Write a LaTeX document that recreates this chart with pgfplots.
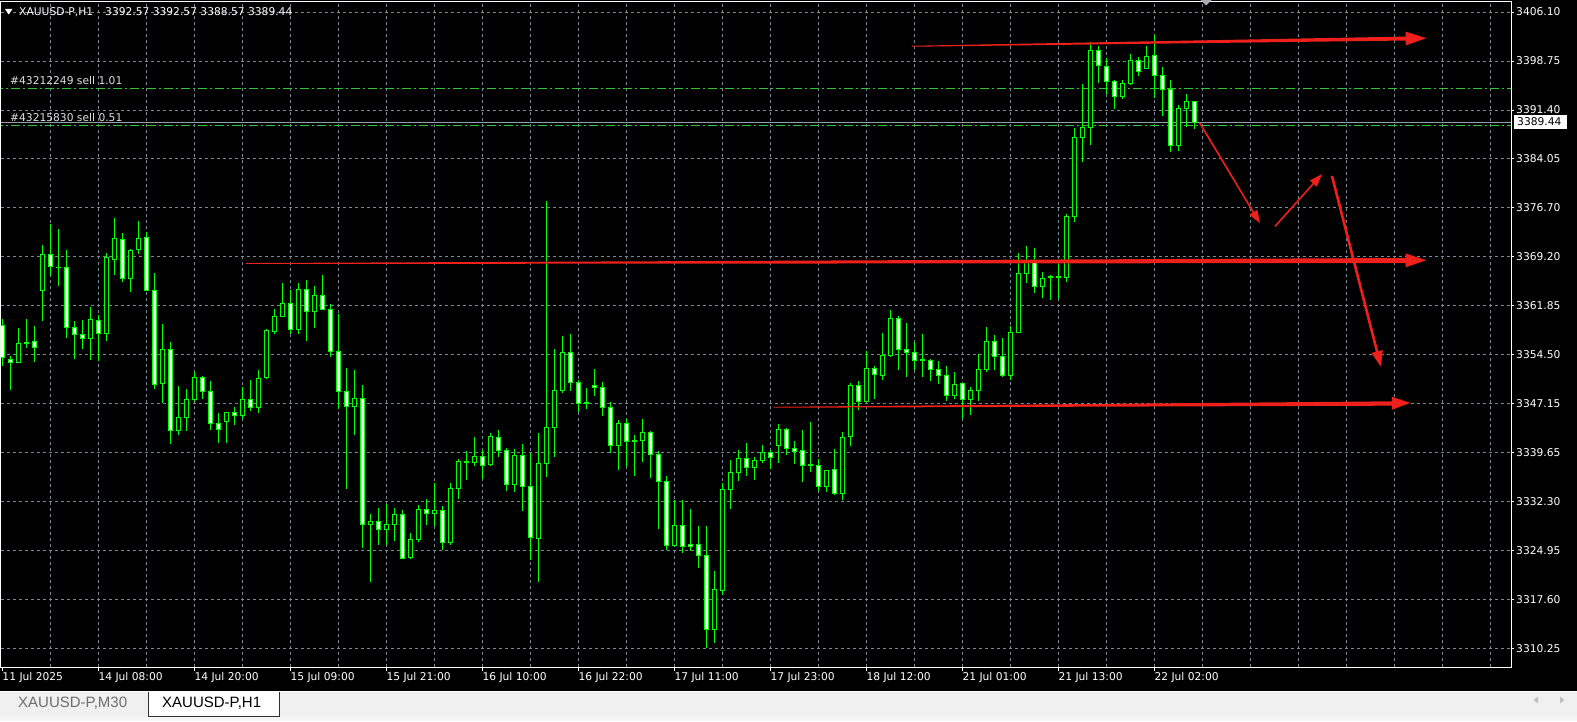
\documentclass[border=0pt]{standalone}
\usepackage{fontspec}
\setmainfont{DejaVu Sans}
\newfontfamily\tabfont{Liberation Sans}
\usepackage{pgfplots}
\usepackage{pgfplotstable}
\pgfplotsset{compat=1.18}
\usetikzlibrary{arrows.meta}

\definecolor{candle}{RGB}{0,255,0}
\definecolor{ordgreen}{RGB}{45,200,45}
\definecolor{gridc}{RGB}{119,136,153}
\definecolor{bidline}{RGB}{150,158,170}
\definecolor{redpen}{RGB}{238,32,28}
\definecolor{tabbg}{RGB}{240,240,240}
\definecolor{tabgray}{RGB}{110,110,110}

\newcommand\mt{\fontsize{10.7pt}{12pt}\selectfont}

% XAUUSD-P H1 bars: index, open, high, low, close
\pgfplotstableread{
k o h l c
0 3358.98 3359.88 3352.85 3354.06
1 3353.81 3354.31 3349.19 3353.30
2 3353.30 3358.53 3353.30 3356.22
3 3356.20 3359.88 3355.56 3356.40
4 3356.52 3358.83 3353.41 3355.62
5 3364.14 3371.03 3359.63 3369.63
6 3369.63 3374.19 3366.36 3367.76
7 3367.70 3373.43 3364.85 3367.60
8 3367.67 3370.27 3357.07 3358.57
9 3358.63 3359.58 3353.90 3357.52
10 3357.58 3359.73 3355.37 3356.92
11 3356.92 3361.69 3353.75 3359.84
12 3359.69 3360.48 3353.51 3357.67
13 3357.67 3369.78 3356.61 3369.07
14 3368.81 3375.09 3366.51 3372.03
15 3371.88 3372.83 3365.50 3365.95
16 3365.95 3370.38 3363.95 3370.27
17 3370.38 3374.64 3369.67 3372.03
18 3372.23 3372.98 3364.10 3364.14
19 3364.20 3366.81 3349.34 3350.05
20 3350.14 3359.13 3347.23 3355.32
21 3355.32 3356.42 3341.10 3343.12
22 3343.12 3349.79 3342.42 3345.08
23 3345.08 3349.34 3343.06 3347.79
24 3347.79 3351.90 3347.43 3351.10
25 3351.10 3351.30 3347.84 3348.99
26 3348.99 3350.55 3343.21 3344.12
27 3344.18 3345.73 3341.26 3343.27
28 3344.48 3345.83 3341.26 3345.83
29 3345.83 3346.63 3343.97 3345.38
30 3345.38 3349.64 3344.78 3347.79
31 3347.79 3350.70 3346.07 3346.59
32 3346.59 3352.20 3345.77 3350.95
33 3351.04 3358.38 3350.80 3358.08
34 3357.97 3361.39 3357.67 3360.29
35 3360.29 3365.30 3360.29 3362.25
36 3362.25 3364.25 3357.58 3358.27
37 3358.27 3365.30 3357.58 3364.35
38 3364.35 3365.76 3356.61 3361.04
39 3361.04 3364.85 3358.57 3363.45
40 3363.45 3366.51 3361.34 3361.34
41 3361.34 3362.14 3354.16 3355.02
42 3355.02 3360.64 3346.38 3348.99
43 3348.99 3352.50 3334.28 3346.74
44 3346.74 3352.20 3342.46 3347.94
45 3347.94 3349.94 3325.44 3328.97
46 3328.97 3330.52 3320.33 3329.36
47 3329.36 3331.42 3325.85 3328.22
48 3328.22 3332.03 3325.85 3328.97
49 3328.97 3331.42 3326.45 3330.47
50 3330.47 3331.12 3323.85 3323.85
51 3323.94 3327.61 3323.74 3326.71
52 3326.71 3331.87 3326.26 3331.23
53 3331.23 3332.78 3328.86 3330.62
54 3330.62 3335.23 3328.71 3331.02
55 3331.02 3331.72 3325.10 3326.20
56 3326.20 3335.14 3325.85 3334.39
57 3334.39 3338.76 3332.78 3338.45
58 3338.50 3340.01 3335.64 3338.25
59 3338.24 3342.11 3337.75 3339.21
60 3339.21 3340.16 3335.83 3337.79
61 3337.90 3342.72 3337.75 3342.22
62 3342.07 3343.17 3339.15 3340.05
63 3340.05 3340.41 3333.98 3334.89
64 3334.89 3340.31 3333.83 3339.36
65 3339.36 3341.06 3330.97 3334.63
66 3334.69 3339.66 3323.59 3326.95
67 3326.80 3342.72 3320.28 3338.15
68 3338.09 3377.65 3336.14 3343.57
69 3343.51 3355.32 3339.15 3349.15
70 3349.09 3357.32 3348.78 3354.87
71 3354.87 3357.62 3349.09 3350.35
72 3350.35 3350.70 3345.92 3347.19
73 3347.20 3349.49 3346.38 3347.35
74 3349.90 3352.35 3348.29 3349.54
75 3349.60 3350.40 3345.28 3346.53
76 3346.59 3347.38 3339.75 3340.80
77 3340.80 3344.67 3337.14 3344.18
78 3344.18 3344.78 3337.64 3341.47
79 3341.50 3342.37 3336.29 3341.60
80 3341.56 3344.82 3338.39 3342.82
81 3342.82 3343.02 3335.99 3339.51
82 3339.51 3340.01 3328.31 3335.38
83 3335.44 3336.24 3325.10 3325.81
84 3325.81 3332.63 3325.55 3328.82
85 3328.82 3332.63 3324.69 3325.60
86 3326.00 3331.27 3324.99 3325.60
87 3325.96 3328.71 3322.43 3324.30
88 3324.30 3328.71 3310.34 3313.10
89 3313.10 3321.89 3311.14 3319.18
90 3318.97 3335.23 3318.32 3334.24
91 3334.18 3338.65 3331.32 3336.80
92 3336.80 3340.16 3335.53 3338.91
93 3338.91 3341.21 3336.29 3337.49
94 3337.49 3339.10 3335.68 3338.61
95 3338.61 3340.91 3338.15 3339.81
96 3339.81 3340.16 3337.34 3339.06
97 3340.86 3344.07 3338.24 3343.27
98 3343.27 3343.47 3339.40 3340.38
99 3340.41 3341.51 3338.09 3339.90
100 3340.11 3343.17 3335.38 3337.85
101 3337.80 3344.37 3336.89 3337.90
102 3337.85 3338.85 3334.03 3334.69
103 3334.69 3337.10 3333.88 3337.10
104 3337.25 3340.31 3333.43 3333.58
105 3333.58 3342.87 3332.63 3342.07
106 3342.16 3350.20 3340.80 3349.90
107 3349.90 3350.55 3346.22 3347.43
108 3347.43 3355.06 3347.43 3352.46
109 3352.46 3352.76 3347.88 3351.56
110 3351.34 3357.77 3350.74 3354.42
111 3354.42 3361.24 3354.21 3359.99
112 3359.99 3360.33 3352.20 3355.32
113 3355.32 3359.28 3351.19 3354.87
114 3354.87 3356.42 3352.20 3353.66
115 3353.70 3357.62 3351.19 3353.80
116 3353.66 3353.86 3350.59 3352.31
117 3352.31 3353.56 3350.14 3351.40
118 3351.40 3352.81 3347.58 3348.39
119 3348.39 3351.86 3347.88 3350.05
120 3350.20 3350.20 3344.87 3347.79
121 3347.79 3349.60 3345.43 3349.15
122 3349.15 3354.61 3347.58 3352.31
123 3352.31 3358.68 3351.95 3356.52
124 3356.52 3357.47 3352.25 3354.27
125 3354.27 3357.02 3351.19 3351.40
126 3351.40 3358.83 3350.70 3357.88
127 3357.88 3369.82 3357.73 3366.76
128 3366.76 3370.87 3365.35 3368.47
129 3368.47 3370.57 3363.84 3364.81
130 3364.81 3366.96 3363.09 3366.01
131 3366.10 3366.55 3362.79 3366.25
132 3366.10 3368.16 3362.94 3366.25
133 3366.10 3375.69 3365.45 3375.39
134 3375.29 3388.64 3374.53 3387.24
135 3387.24 3395.27 3383.57 3388.75
136 3388.75 3401.55 3386.08 3400.34
137 3400.34 3401.04 3395.46 3398.08
138 3397.93 3399.14 3393.72 3395.68
139 3395.68 3395.87 3391.50 3393.42
140 3393.42 3395.87 3393.06 3395.37
141 3395.37 3399.79 3395.16 3398.84
142 3398.84 3399.33 3396.52 3397.18
143 3397.63 3400.99 3397.63 3399.44
144 3399.59 3402.69 3393.21 3396.58
145 3396.58 3397.87 3390.50 3394.47
146 3394.47 3395.87 3385.07 3386.04
147 3386.04 3392.11 3385.23 3391.55
148 3391.55 3393.76 3388.84 3392.66
149 3392.57 3392.57 3388.57 3389.44
}\bars

\pgfplotsset{
  frame/.style={scale only axis, width=1510pt, height=665pt,
    at={(1pt,54pt)}, anchor=south west,
    xmin=-0.1625, xmax=188.5875, ymin=3307.48, ymax=3407.62},
}

\begin{document}
\begin{tikzpicture}[x=1pt,y=1pt]
\useasboundingbox (0,0) rectangle (1577,721);
\fill[black] (0,0) rectangle (1577,721);

% grid, price scale, order lines, wicks
\begin{axis}[frame,
  axis line style={white, line width=1pt},
  xtick={6,12,...,186}, xticklabels={}, xtick pos=bottom,
  xtick style={draw=none},
  ytick={3406.100,3398.727,3391.354,3383.981,3376.608,3369.235,3361.861,3354.488,3347.115,3339.742,3332.369,3324.996,3317.623,3310.250},
  yticklabels={3406.10,3398.75,3391.40,3384.05,3376.70,3369.20,3361.85,3354.50,3347.15,3339.65,3332.30,3324.95,3317.60,3310.25},
  ytick pos=right, yticklabel pos=right,
  tick align=outside, major tick length=3pt,
  ytick style={white, line width=1pt},
  yticklabel style={white, font=\mt, anchor=west, inner sep=0pt, xshift=2pt},
  grid=major,
  major grid style={gridc, line width=1pt, dash pattern=on 3pt off 3pt},
]
\addplot[ordgreen, line width=1pt, dash pattern=on 9pt off 3pt on 2pt off 3pt]
  coordinates {(-1,3394.63) (190,3394.63)};
\addplot[ordgreen, line width=1pt, dash pattern=on 9pt off 3pt on 2pt off 3pt]
  coordinates {(-1,3389.00) (190,3389.00)};
\addplot[bidline, line width=1pt] coordinates {(-1,3389.44) (190,3389.44)};
\addplot[draw=none, mark=none,
  error bars/.cd, y dir=plus, y explicit, error mark=none,
  error bar style={draw=candle, solid, line width=1pt}]
  table[x=k, y=l, y error plus expr=\thisrow{h}-\thisrow{l}] {\bars};
\end{axis}

% candle bodies
\begin{axis}[frame, hide axis, ybar stacked, bar width=4pt]
\addplot[draw=none, fill=none] table[x=k, y expr={min(\thisrow{o},\thisrow{c})}] {\bars};
\addplot[draw=candle, fill=white, line width=1pt] table[x=k, y expr={max(\thisrow{o}-\thisrow{c},0)}] {\bars};
\addplot[draw=candle, fill=black, line width=1pt] table[x=k, y expr={max(\thisrow{c}-\thisrow{o},0)}] {\bars};
\end{axis}

% time scale and hand-drawn arrows
\begin{axis}[frame, axis line style={draw=none}, ytick=\empty,
  xtick={0,12,...,144},
  xticklabels={11 Jul 2025,14 Jul 08:00,14 Jul 20:00,15 Jul 09:00,15 Jul 21:00,16 Jul 10:00,16 Jul 22:00,17 Jul 11:00,17 Jul 23:00,18 Jul 12:00,21 Jul 01:00,21 Jul 13:00,22 Jul 02:00},
  xtick pos=bottom, tick align=outside, major tick length=4pt,
  xtick style={white, line width=1pt},
  xticklabel style={white, font=\mt, anchor=west, inner sep=0pt, yshift=-7pt},
]
% top
\addplot[fill=redpen, draw=none] coordinates {(113.7,3401.03) (175.6,3402.42) (175.6,3401.82) (113.7,3400.88)};
\addplot[fill=redpen, draw=none] coordinates {(175.4,3403.17) (178.0,3402.17) (175.4,3401.07)};
% middle
\addplot[fill=redpen, draw=none] coordinates {(30.46,3368.31) (175.5,3369.07) (175.5,3368.31) (30.46,3368.17)};
\addplot[fill=redpen, draw=none] coordinates {(175.4,3369.77) (178.0,3368.72) (175.4,3367.67)};
% lower
\addplot[fill=redpen, draw=none] coordinates {(96.46,3346.66) (173.8,3347.49) (173.8,3346.83) (96.46,3346.52)};
\addplot[fill=redpen, draw=none] coordinates {(173.7,3348.18) (176.0,3347.25) (173.7,3346.22)};
% zigzag
\addplot[redpen, line width=1.6pt, -{Triangle[length=13pt,width=9pt]}] coordinates {(149.66,3389.44) (157.21,3374.29)};
\addplot[redpen, line width=1.6pt, -{Triangle[length=13pt,width=9pt]}] coordinates {(159.09,3373.84) (164.97,3381.72)};
\addplot[redpen, line width=2.6pt, -{Triangle[length=16pt,width=11pt]}] coordinates {(166.21,3381.42) (172.34,3352.66)};
\end{axis}

% header
\fill[white] (5,712) -- (12.5,712) -- (8.75,706.5) -- cycle;
\node[white, font=\mt, anchor=west, inner sep=0pt] at (19,709) {XAUUSD-P,H1};
\node[white, font=\mt, anchor=west, inner sep=0pt] at (105,709) {3392.57 3392.57 3388.57 3389.44};
\fill[gray!65] (1200.5,721) -- (1211.5,721) -- (1206,715.5) -- cycle;
% order labels
\node[white!88!black, font=\mt, anchor=west, inner sep=0pt] at (10,640.5) {\#43212249 sell 1.01};
\node[white!88!black, font=\mt, anchor=west, inner sep=0pt] at (10,603.5) {\#43215830 sell 0.51};
% bid price box
\fill[white] (1513.5,592.3) rectangle (1566.5,606.4);
\node[black, font=\mt, anchor=west, inner sep=0pt] at (1517,599.3) {3389.44};
% tab bar
\fill[tabbg] (0,0) rectangle (1577,30);
\fill[white!96!black] (0,0) rectangle (1577,4);
\draw[white, line width=1pt] (0,29.5) -- (1577,29.5);
\fill[white] (148.5,5) rectangle (279.5,29);
\draw[black!80, line width=1pt] (148.5,29) -- (148.5,5) -- (279.5,5) -- (279.5,29);
\node[tabgray, anchor=west, inner sep=0pt] at (18,17.5) {\tabfont\fontsize{15pt}{17pt}\selectfont XAUUSD-P,M30};
\node[black, anchor=west, inner sep=0pt] at (162,17.5) {\tabfont\fontsize{15pt}{17pt}\selectfont XAUUSD-P,H1};
\fill[gray!50] (1538,24.5) -- (1538,17.5) -- (1533.5,21) -- cycle;
\fill[gray!50] (1560,24.5) -- (1560,17.5) -- (1564.5,21) -- cycle;
\end{tikzpicture}
\end{document}
